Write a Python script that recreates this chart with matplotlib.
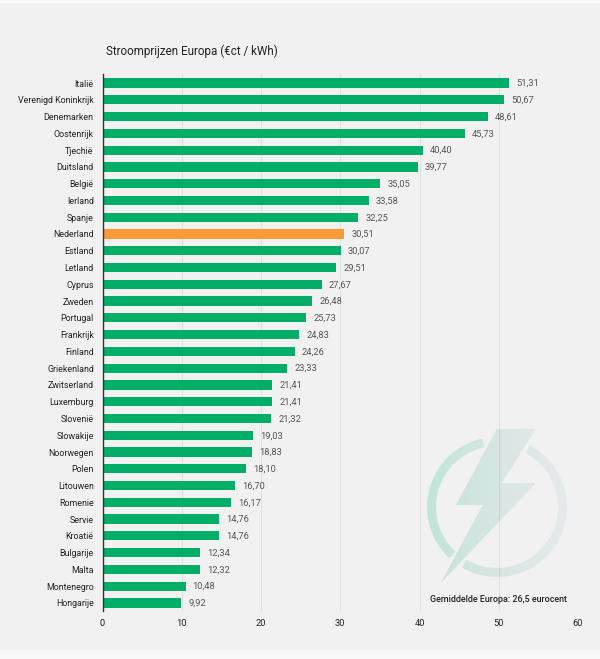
import numpy as np
import matplotlib.pyplot as plt
from matplotlib.patches import Rectangle, Wedge
from matplotlib.path import Path

landen = ['Italië', 'Verenigd Koninkrijk', 'Denemarken', 'Oostenrijk', 'Tjechië', 'Duitsland',
          'België', 'Ierland', 'Spanje', 'Nederland', 'Estland', 'Letland', 'Cyprus', 'Zweden',
          'Portugal', 'Frankrijk', 'Finland', 'Griekenland', 'Zwitserland', 'Luxemburg', 'Slovenië',
          'Slowakije', 'Noorwegen', 'Polen', 'Litouwen', 'Romenie', 'Servie', 'Kroatië', 'Bulgarije',
          'Malta', 'Montenegro', 'Hongarije']
prijzen = [51.31, 50.67, 48.61, 45.73, 40.40, 39.77, 35.05, 33.58, 32.25, 30.51, 30.07, 29.51,
           27.67, 26.48, 25.73, 24.83, 24.26, 23.33, 21.41, 21.41, 21.32, 19.03, 18.83, 18.10,
           16.70, 16.17, 14.76, 14.76, 12.34, 12.32, 10.48, 9.92]
x_ticks = [0, 10, 20, 30, 40, 50, 60]

GROEN = '#00ae68'
ORANJE = '#fb9a36'
W, H = 600, 659

plt.rcParams['font.family'] = ['Roboto', 'DejaVu Sans']

fig = plt.figure(figsize=(W / 100, H / 100), dpi=100, facecolor='#f9f9f9')

# achtergrond en logo in pixelcoordinaten
bg = fig.add_axes([0, 0, 1, 1], zorder=0)
bg.set_xlim(0, W)
bg.set_ylim(H, 0)
bg.axis('off')
bg.add_patch(Rectangle((0, 3), W, 647, fc='#f1f1f1', ec='none'))

ax = fig.add_axes([102.5 / W, 1 - 611 / H, 475.5 / W, 537 / H], zorder=1)
ax.patch.set_alpha(0)
kleuren = [ORANJE if land == 'Nederland' else GROEN for land in landen]
y = np.arange(len(landen))
ax.barh(y, prijzen, height=0.55, color=kleuren, zorder=2)
for yi, p in zip(y, prijzen):
    ax.text(p + 0.9, yi + 0.03, f'{p:.2f}'.replace('.', ','), va='center', ha='left',
            fontsize=6.7, color='#555555')
ax.set_xlim(0, 60)
ax.set_ylim(31.48, -0.54)
ax.set_xticks(x_ticks)
ax.set_yticks(y, landen)
ax.grid(axis='x', color='#e0e0e0', lw=0.8, zorder=0)
ax.set_axisbelow(True)
ax.tick_params(length=0, labelcolor='#222222')
ax.tick_params(axis='y', pad=6.3, labelsize=6.4)
ax.tick_params(axis='x', pad=5.5, labelsize=6.7)
for s in ['top', 'right', 'bottom']:
    ax.spines[s].set_visible(False)
ax.spines['left'].set_color('#333333')
ax.spines['left'].set_linewidth(1)

# logo: bliksem en ring met verloop
logo = fig.add_axes([0, 0, 1, 1], zorder=2)
logo.set_xlim(0, W)
logo.set_ylim(H, 0)
logo.axis('off')
t = np.linspace(0, 1, 200)[None, :, None]
links = np.array([0, 185, 115, 0.20])
rechts = np.array([90, 135, 160, 0.07])
verloop = links * (1 - t) + rechts * t
verloop[..., :3] /= 255
bolt = [(496.7, 429), (536, 429), (501.7, 483), (536, 483), (440.7, 583), (482.7, 505), (456, 505)]
bogen = [Wedge((497, 507), 70, -62, 120, width=9), Wedge((497, 507), 70, 133, 258, width=9)]
paden = [Path(bolt + [bolt[0]], closed=True)]
paden += [b.get_patch_transform().transform_path(b.get_path()) for b in bogen]
for pad in paden:
    im = logo.imshow(verloop, extent=(427, 567, 583, 429), aspect='auto', interpolation='bilinear')
    im.set_clip_path(pad, transform=logo.transData)
logo.set_xlim(0, W)
logo.set_ylim(H, 0)

logo.text(106, 51, 'Stroomprijzen Europa (€ct / kWh)', fontsize=8.4, color='#222222', va='center')
logo.text(430.5, 599, 'Gemiddelde Europa: 26,5 eurocent', fontsize=6.4, fontweight='medium',
          color='#222222', va='center')

fig.savefig('out.png', dpi=100, facecolor=fig.get_facecolor())
